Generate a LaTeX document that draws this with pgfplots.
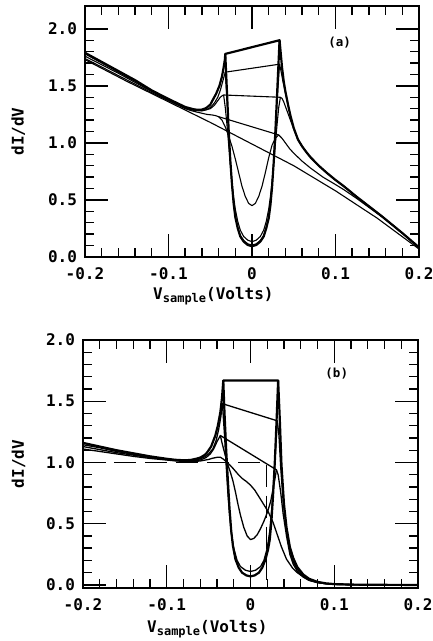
\documentclass[border=0pt]{standalone}
\usepackage{fontspec}
\setmainfont{DejaVu Sans Mono}
\usepackage{pgfplots}
\pgfplotsset{compat=1.18}

\newcommand{\ticfont}{\fontsize{16}{18}\selectfont\bfseries}
\newcommand{\panfont}{\fontsize{12.5}{14}\selectfont\bfseries}
\newcommand{\vlabel}{V\raisebox{-3pt}{\fontsize{12}{12}\selectfont sample}(Volts)}

\pgfplotsset{
  panel/.style={
    scale only axis,
    xmin=-0.2, xmax=0.2,
    xtick={-0.2,-0.1,0,0.1,0.2},
    xticklabels={-0.2,-0.1,0,0.1,0.2},
    ytick={0,0.5,1,1.5,2},
    yticklabels={0.0,0.5,1.0,1.5,2.0},
    minor x tick num=4, minor y tick num=4,
    tick align=inside,
    major tick length=23pt, minor tick length=9pt,
    axis line style={line width=1.6pt},
    every tick/.style={black, line width=1.4pt},
    ticklabel style={font=\ticfont},
    xticklabel style={yshift=-7pt},
    yticklabel style={xshift=-4.5pt},
    label style={font=\ticfont},
    ylabel={dI/dV},
  },
  thinc/.style={black, line width=1.1pt, line join=round, no marks},
  medc/.style={black, line width=1.3pt, line join=round, no marks},
  thickc/.style={black, line width=2.2pt, line join=round, no marks},
}

\begin{document}
\begin{tikzpicture}
\useasboundingbox (0,0) rectangle (432pt,641pt);

% ---------------- panel (a): sloped normal-state background ----------------
\begin{axis}[panel,
  at={(85pt,384pt)}, anchor=south west,
  width=334pt, height=251pt,
  ymin=0, ymax=2.2,
  xlabel={\vlabel},
  xlabel style={at={(axis description cs:0.2036,-0.171)}, anchor=base west, inner sep=0pt},
  ylabel style={at={(axis description cs:-0.2,0.5)}, anchor=center},
]
% normal state
\addplot[thinc] coordinates {(-0.2,1.73) (-0.15,1.54) (-0.1,1.36) (-0.05,1.18) (0,0.99) (0.05,0.80) (0.1,0.58) (0.15,0.34) (0.2,0.07)};

% curve 1: outer branches joined across the gap
\addplot[thickc] coordinates {(-0.2,1.79) (-0.18,1.71) (-0.16,1.63) (-0.14,1.55) (-0.12,1.46) (-0.1,1.385) (-0.09,1.35) (-0.08,1.315) (-0.07,1.295) (-0.065,1.29) (-0.06,1.292) (-0.055,1.305) (-0.05,1.335) (-0.046,1.39) (-0.043,1.43) (-0.039,1.50) (-0.036,1.58) (-0.034,1.66) (-0.0325,1.73) (-0.032,1.78)
 (0.033,1.90) (0.0345,1.78) (0.036,1.66) (0.038,1.54) (0.040,1.45) (0.043,1.34) (0.046,1.24) (0.05,1.13) (0.055,1.03) (0.06,0.97) (0.065,0.92) (0.07,0.875) (0.08,0.80) (0.09,0.735) (0.1,0.675) (0.11,0.62) (0.125,0.53) (0.14,0.445) (0.155,0.36) (0.165,0.30) (0.18,0.21) (0.2,0.085)};
\addplot[thickc] coordinates {(-0.032,1.78) (-0.030,1.45) (-0.028,1.12) (-0.026,0.85) (-0.024,0.64) (-0.022,0.47) (-0.020,0.35) (-0.017,0.25) (-0.014,0.18) (-0.010,0.135) (-0.005,0.105) (0,0.095) (0.005,0.105) (0.010,0.135) (0.014,0.18) (0.017,0.25) (0.020,0.34) (0.022,0.45) (0.024,0.61) (0.026,0.83) (0.028,1.10) (0.030,1.42) (0.0315,1.66) (0.033,1.90)};

% curve 2
\addplot[thinc] coordinates {(-0.2,1.78) (-0.18,1.70) (-0.16,1.62) (-0.14,1.54) (-0.12,1.455) (-0.1,1.38) (-0.09,1.345) (-0.08,1.31) (-0.07,1.29) (-0.06,1.285) (-0.055,1.29) (-0.05,1.31) (-0.045,1.35) (-0.041,1.40) (-0.038,1.46) (-0.035,1.54) (-0.032,1.62)
 (0.033,1.69) (0.035,1.62) (0.037,1.54) (0.040,1.44) (0.043,1.34) (0.046,1.24) (0.05,1.13) (0.055,1.035) (0.06,0.97) (0.065,0.92) (0.07,0.875) (0.08,0.80) (0.09,0.735) (0.1,0.675) (0.11,0.62) (0.125,0.53) (0.14,0.445) (0.155,0.36) (0.165,0.30) (0.18,0.21) (0.2,0.08)};
\addplot[thinc] coordinates {(-0.032,1.62) (-0.030,1.40) (-0.028,1.10) (-0.026,0.84) (-0.024,0.635) (-0.022,0.47) (-0.020,0.355) (-0.017,0.255) (-0.014,0.19) (-0.010,0.145) (-0.005,0.115) (0,0.105) (0.005,0.115) (0.010,0.145) (0.014,0.19) (0.017,0.255) (0.020,0.35) (0.022,0.46) (0.024,0.62) (0.026,0.83) (0.028,1.09) (0.030,1.36) (0.033,1.69)};

% curve 3
\addplot[thinc] coordinates {(-0.2,1.76) (-0.18,1.685) (-0.16,1.61) (-0.14,1.53) (-0.12,1.45) (-0.1,1.375) (-0.09,1.34) (-0.08,1.305) (-0.07,1.285) (-0.06,1.28) (-0.05,1.30) (-0.045,1.33) (-0.041,1.37) (-0.038,1.40) (-0.0355,1.415) (-0.034,1.42)
 (0.034,1.40) (0.036,1.39) (0.038,1.36) (0.040,1.32) (0.043,1.26) (0.046,1.20) (0.05,1.12) (0.055,1.03) (0.06,0.97) (0.065,0.92) (0.07,0.875) (0.08,0.80) (0.09,0.735) (0.1,0.675) (0.11,0.62) (0.125,0.53) (0.14,0.445) (0.155,0.36) (0.165,0.30) (0.18,0.21) (0.2,0.08)};
\addplot[thinc] coordinates {(-0.034,1.42) (-0.032,1.31) (-0.030,1.16) (-0.028,0.99) (-0.026,0.82) (-0.024,0.66) (-0.022,0.525) (-0.020,0.42) (-0.017,0.31) (-0.014,0.235) (-0.010,0.18) (-0.005,0.147) (0,0.135) (0.005,0.147) (0.010,0.18) (0.014,0.235) (0.017,0.31) (0.020,0.42) (0.022,0.525) (0.024,0.66) (0.026,0.82) (0.028,0.99) (0.030,1.16) (0.032,1.31) (0.034,1.40)};

% curve 4
\addplot[thinc] coordinates {(-0.2,1.74) (-0.18,1.665) (-0.16,1.59) (-0.14,1.515) (-0.12,1.44) (-0.1,1.37) (-0.09,1.335) (-0.08,1.30) (-0.074,1.285) (-0.066,1.27) (-0.06,1.26) (-0.054,1.25) (-0.048,1.245) (-0.044,1.24) (-0.040,1.23)
 (0.032,1.07) (0.036,1.04) (0.040,1.00) (0.045,0.95) (0.05,0.91) (0.06,0.84) (0.07,0.78) (0.085,0.70) (0.1,0.635) (0.11,0.59) (0.125,0.515) (0.14,0.435) (0.155,0.355) (0.165,0.30) (0.18,0.21) (0.2,0.08)};
\addplot[thinc] coordinates {(-0.040,1.23) (-0.036,1.20) (-0.032,1.14) (-0.028,1.06) (-0.024,0.97) (-0.020,0.86) (-0.016,0.74) (-0.012,0.62) (-0.008,0.53) (-0.004,0.47) (0,0.45) (0.004,0.47) (0.008,0.53) (0.012,0.62) (0.016,0.74) (0.020,0.87) (0.024,0.98) (0.028,1.04) (0.032,1.07)};

\node[font=\panfont] at (axis cs:0.105,1.88) {(a)};
\end{axis}

% ---------------- panel (b): step-like normal-state background ----------------
\begin{axis}[panel,
  at={(83pt,53pt)}, anchor=south west,
  width=335pt, height=248pt,
  ymin=-0.025, ymax=2.0,
  xlabel={\vlabel},
  xlabel style={at={(axis description cs:0.191,-0.181)}, anchor=base west, inner sep=0pt},
  ylabel style={at={(axis description cs:-0.1925,0.5)}, anchor=center},
]
% normal state
\addplot[black, line width=1.3pt, dash pattern=on 22pt off 9pt] coordinates {(-0.2,1.0) (0.0195,1.0) (0.0195,0.0)};

% curve 1
\addplot[thickc] coordinates {(-0.2,1.16) (-0.18,1.13) (-0.16,1.10) (-0.14,1.075) (-0.12,1.05) (-0.1,1.03) (-0.09,1.022) (-0.08,1.018) (-0.072,1.02) (-0.065,1.03) (-0.06,1.04) (-0.055,1.06) (-0.052,1.08) (-0.047,1.13) (-0.042,1.22) (-0.039,1.30) (-0.036,1.41) (-0.034,1.53) (-0.0325,1.67)
 (0.033,1.67) (0.035,1.35) (0.037,0.98) (0.040,0.66) (0.043,0.47) (0.047,0.31) (0.051,0.22) (0.056,0.145) (0.063,0.085) (0.07,0.05) (0.08,0.025) (0.09,0.013) (0.1,0.007) (0.12,0.003) (0.15,0.001) (0.2,0.0)};
\addplot[thickc] coordinates {(-0.0325,1.67) (-0.031,1.40) (-0.029,1.10) (-0.027,0.85) (-0.025,0.62) (-0.023,0.44) (-0.021,0.32) (-0.018,0.21) (-0.014,0.14) (-0.010,0.10) (-0.005,0.078) (0,0.07) (0.005,0.078) (0.010,0.10) (0.014,0.14) (0.018,0.21) (0.021,0.29) (0.023,0.37) (0.025,0.52) (0.027,0.74) (0.029,1.00) (0.031,1.32) (0.033,1.67)};

% curve 2
\addplot[medc] coordinates {(-0.2,1.145) (-0.18,1.12) (-0.16,1.09) (-0.14,1.067) (-0.12,1.045) (-0.1,1.027) (-0.09,1.019) (-0.08,1.014) (-0.07,1.015) (-0.062,1.025) (-0.055,1.045) (-0.05,1.07) (-0.045,1.11) (-0.041,1.18) (-0.038,1.27) (-0.0355,1.37) (-0.0335,1.48)
 (0.032,1.34) (0.034,1.22) (0.036,0.97) (0.039,0.68) (0.043,0.44) (0.047,0.28) (0.051,0.19) (0.056,0.125) (0.063,0.072) (0.07,0.042) (0.08,0.021) (0.09,0.011) (0.1,0.006) (0.12,0.002) (0.2,0.0)};
\addplot[medc] coordinates {(-0.0335,1.48) (-0.031,1.22) (-0.029,0.97) (-0.027,0.75) (-0.025,0.57) (-0.023,0.43) (-0.020,0.30) (-0.016,0.20) (-0.012,0.15) (-0.006,0.12) (0,0.11) (0.006,0.12) (0.012,0.15) (0.016,0.20) (0.020,0.30) (0.023,0.44) (0.026,0.67) (0.029,0.98) (0.032,1.34)};

% curve 3
\addplot[medc] coordinates {(-0.2,1.13) (-0.18,1.105) (-0.16,1.08) (-0.14,1.06) (-0.12,1.04) (-0.1,1.024) (-0.09,1.016) (-0.08,1.011) (-0.07,1.012) (-0.06,1.02) (-0.053,1.04) (-0.048,1.07) (-0.044,1.11) (-0.040,1.17) (-0.036,1.22)
 (0.031,0.94) (0.033,0.90) (0.036,0.76) (0.039,0.58) (0.043,0.40) (0.047,0.25) (0.051,0.17) (0.056,0.11) (0.063,0.065) (0.07,0.037) (0.08,0.019) (0.09,0.01) (0.1,0.005) (0.12,0.002) (0.2,0.0)};
\addplot[medc] coordinates {(-0.036,1.22) (-0.034,1.16) (-0.031,1.08) (-0.027,0.98) (-0.024,0.92) (-0.021,0.85) (-0.018,0.76) (-0.015,0.66) (-0.012,0.57) (-0.008,0.47) (-0.004,0.40) (0,0.37) (0.004,0.38) (0.008,0.41) (0.012,0.46) (0.016,0.52) (0.020,0.59) (0.024,0.68) (0.028,0.82) (0.031,0.94)};

% curve 4
\addplot[medc] coordinates {(-0.2,1.11) (-0.18,1.09) (-0.16,1.07) (-0.14,1.05) (-0.12,1.033) (-0.1,1.02) (-0.09,1.013) (-0.08,1.009) (-0.07,1.008) (-0.06,1.012) (-0.05,1.025) (-0.045,1.035) (-0.040,1.042) (-0.036,1.043) (-0.032,1.025) (-0.028,1.0) (-0.024,0.975) (-0.020,0.945) (-0.015,0.905) (-0.010,0.87) (-0.005,0.845) (0,0.815) (0.005,0.775) (0.011,0.71) (0.016,0.655) (0.021,0.60) (0.027,0.51) (0.032,0.41) (0.037,0.31) (0.043,0.21) (0.050,0.14) (0.055,0.105) (0.063,0.065) (0.07,0.038) (0.08,0.019) (0.09,0.01) (0.1,0.005) (0.12,0.002) (0.2,0.0)};

\node[font=\panfont] at (axis cs:0.103,1.726) {(b)};
\end{axis}
\end{tikzpicture}
\end{document}
